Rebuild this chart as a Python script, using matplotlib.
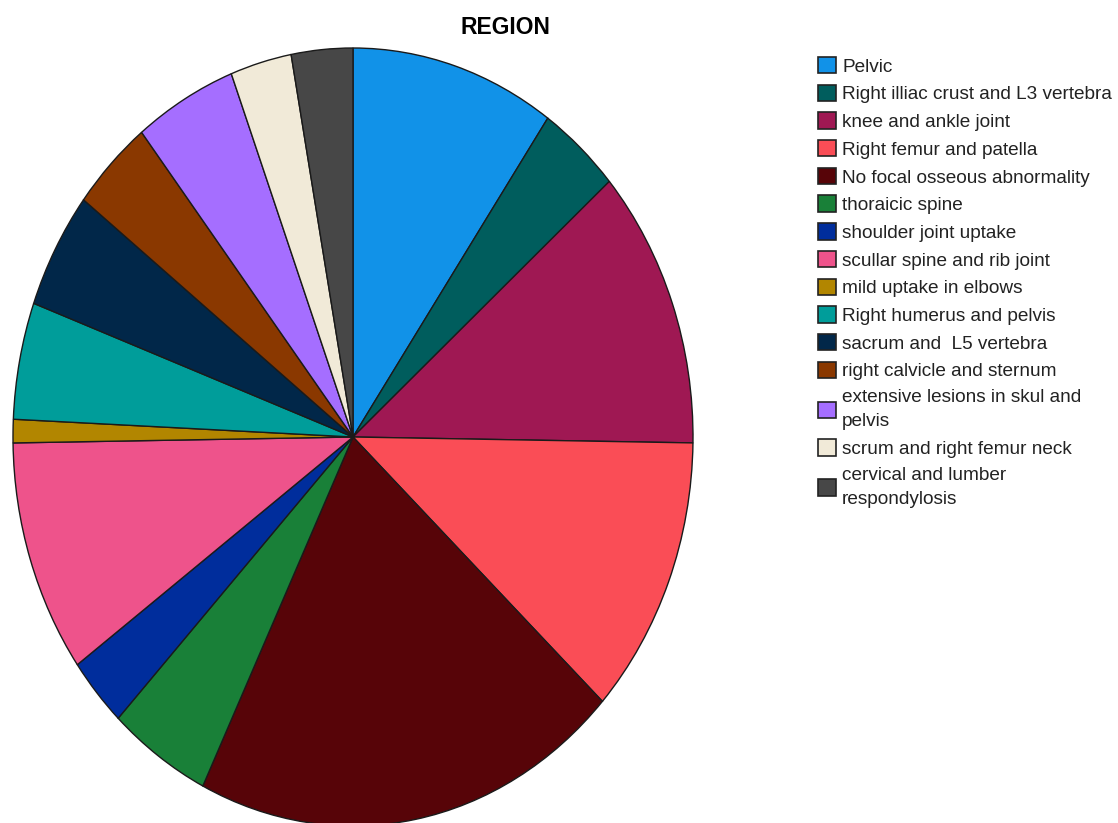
import matplotlib.pyplot as plt
from matplotlib.patches import Patch

plt.rcParams['font.family'] = ['Liberation Sans', 'DejaVu Sans']

# counts per region
regions = ["Pelvic", "Right illiac crust and L3 vertebra", "knee and ankle joint",
           "Right femur and patella", "No focal osseous abnormality", "thoraicic spine",
           "shoulder joint uptake", "scullar spine and rib joint", "mild uptake in elbows",
           "Right humerus and pelvis", "sacrum and  L5 vertebra", "right calvicle and sternum",
           "extensive lesions in skul and\npelvis", "scrum and right femur neck",
           "cervical and lumber\nrespondylosis"]
counts = [10, 4, 12, 12, 21, 5, 3, 10, 1, 5, 5, 4, 5, 3, 3]
colors = ["#1192e8", "#005d5d", "#9f1853", "#fa4d56", "#570408", "#198038",
          "#002d9c", "#ee538b", "#b28600", "#009d9a", "#012749", "#8a3800",
          "#a56eff", "#f1ead8", "#474747"]

fig = plt.figure(figsize=(11.18, 8.23), dpi=100)

# pie is drawn stretched vertically, like the original
ax = fig.add_axes([13 / 1118, (823 - 826) / 823, 680 / 1118, 778 / 823])
ax.pie(counts, colors=colors, startangle=90, counterclock=False,
       wedgeprops=dict(edgecolor="#1a1a1a", linewidth=1.0))
ax.set_aspect('auto')
ax.set_xlim(-1.0, 1.0)
ax.set_ylim(-1.0, 1.0)
ax.axis('off')

fig.text(505 / 1118, 1 - 28 / 823, "REGION", ha='center', va='center',
         fontsize=16.5, fontweight='bold')

handles = [Patch(facecolor=c, edgecolor="#222222", linewidth=1.2) for c in colors]
leg = fig.legend(handles, regions, loc='upper left', bbox_to_anchor=(818 / 1118, 1 - 57 / 823),
                 frameon=False, fontsize=13.7, handlelength=0.95, handleheight=0.95,
                 handletextpad=0.32, labelspacing=0.47, borderpad=0, borderaxespad=0)
for t in leg.get_texts():
    t.set_linespacing(1.55)
    t.set_color("#222222")

plt.savefig("out.png", dpi=100)
